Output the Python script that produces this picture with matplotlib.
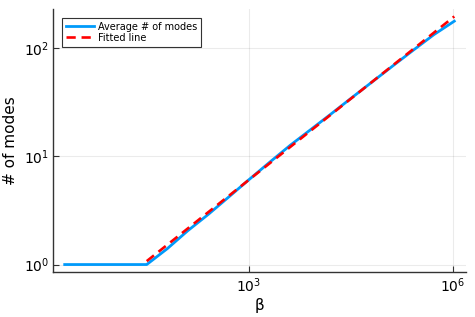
import matplotlib
matplotlib.use("Agg")
import matplotlib.pyplot as plt
import numpy as np

# Data: beta = 2^k, k = 1..20
beta = [2**k for k in range(1, 21)]
avg_modes = [1.0, 1.0, 1.0, 1.0, 1.0, 1.4, 2.05, 2.9, 4.2, 6.1, 8.8, 12.6, 17.6,
             24.6, 34.6, 48.5, 68.0, 95.0, 132.0, 176.0]
fit_beta = [2**k for k in range(5, 21)]
fit_coef = 0.19
fit_exp = 0.5
fit_vals = [fit_coef * b**fit_exp for b in fit_beta]

x_ticks = [1e3, 1e6]
y_ticks = [1, 10, 100]

plt.rcParams['font.family'] = ['DejaVu Sans']
fig = plt.figure(figsize=(4.75, 3.17), dpi=100)
ax = fig.add_axes([0.1116, 0.142, 0.8694, 0.8296])

ax.plot(beta, avg_modes, color='#009AFA', lw=2.0, label='Average # of modes', zorder=3)
ax.plot(fit_beta, fit_vals, color='#FF0000', lw=1.9, linestyle=(0, (3.5, 2.2)),
        label='Fitted line', zorder=4)

ax.set_xscale('log')
ax.set_yscale('log')
ax.margins(0.03)
ax.set_xticks(x_ticks)
ax.set_yticks(y_ticks)
ax.minorticks_off()

ax.grid(True, color='#000000', alpha=0.08, lw=0.8)
ax.set_axisbelow(True)
for s in ['top', 'right']:
    ax.spines[s].set_visible(False)
for s in ['left', 'bottom']:
    ax.spines[s].set_color('#333333')
    ax.spines[s].set_linewidth(1.0)
ax.tick_params(direction='in', length=4, width=0.8, color='#333333',
               labelsize=10, pad=3)

ax.set_xlabel('β', fontsize=11, labelpad=2)
ax.set_ylabel('# of modes', fontsize=11, labelpad=4)

leg = ax.legend(loc='upper left', fontsize=7, frameon=True, fancybox=False,
                edgecolor='#333333', framealpha=1, borderpad=0.4,
                handlelength=2.9, handletextpad=0.4, labelspacing=0.1,
                borderaxespad=0.9)
leg.get_frame().set_linewidth(0.8)

fig.savefig('out.png', dpi=100)
